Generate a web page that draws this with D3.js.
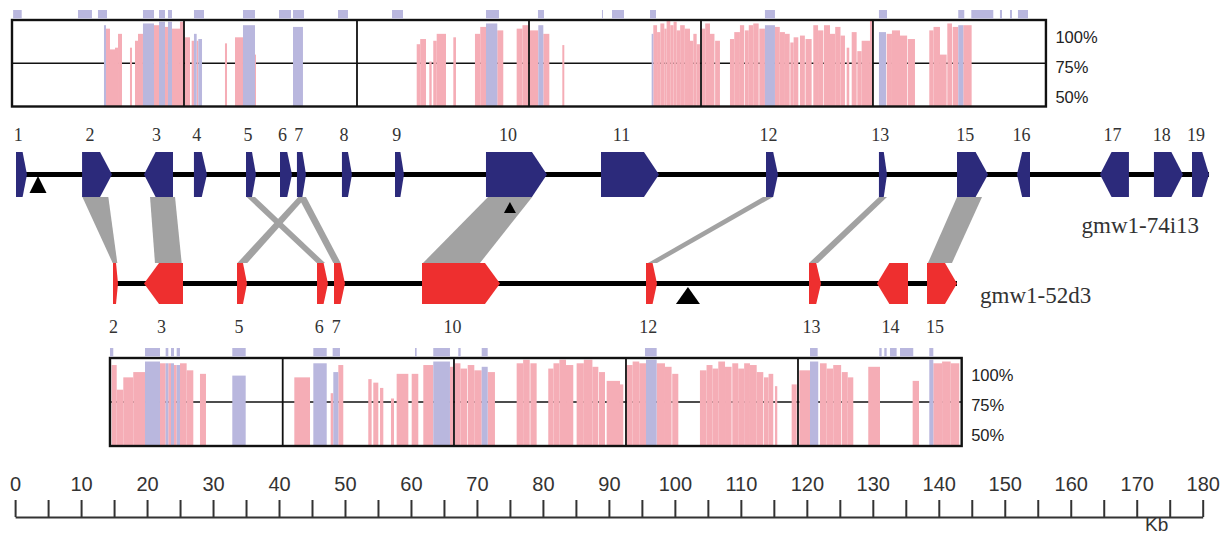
<!DOCTYPE html>
<html><head><meta charset="utf-8">
<script src="https://cdn.jsdelivr.net/npm/d3@7"></script>
<style>body{margin:0;background:#fff}svg{display:block}</style>
</head><body>
<svg id="c" width="1223" height="536"></svg>
<script>
// ================= DATA (positions in kb, identities in %) =================
const axisTicks = d3.range(0, 181, 5);
const axisLabelEvery = 10;
const axisUnit = "Kb";
const pctLabels = ["100%", "75%", "50%"];

const topName = "gmw1-74i13";
const botName = "gmw1-52d3";

// genes: id, start kb, end kb, strand
const topGeneIds    = ["1","2","3","4","5","6","7","8","9","10","11","12","13","15","16","17","18","19"];
const topGeneStart  = [0.14,10.15,19.54,27.11,35.00,40.15,42.72,49.54,57.58,71.37,88.80,113.81,130.93,142.76,151.85,164.43,172.61,178.38];
const topGeneEnd    = [1.80,14.69,23.93,29.08,36.51,41.97,44.09,51.06,58.94,80.61,97.59,115.63,132.15,147.46,153.82,168.82,177.01,180.96];
const topGeneStrand = [1,1,-1,1,1,1,1,1,1,1,1,1,1,1,-1,-1,1,1];

const botGeneIds    = ["2","3","5","6","7","10","12","13","14","15"];
const botGeneStart  = [14.84,19.54,33.63,45.76,48.33,61.67,95.62,120.33,130.63,138.21];
const botGeneEnd    = [15.60,25.45,35.15,47.42,50.00,73.49,97.29,122.15,135.33,142.76];
const botGeneStrand = [1,-1,1,1,1,1,1,1,-1,1];

// orthology links: [top start, top end, bottom start, bottom end] in kb
const links = [
  [10.20,14.13,14.79,15.49],
  [20.45,24.24,21.20,25.25],
  [35.10,36.36,45.71,46.97],
  [42.92,44.09,33.69,35.19],
  [42.92,44.09,48.23,49.35],
  [71.68,78.38,61.82,70.46],
  [113.36,114.87,95.92,97.29],
  [130.93,132.15,120.33,121.69],
  [142.76,146.55,138.36,142.00]
];

// insertion markers: kb, track
const markerKb    = [3.47, 75.0, 101.98];
const markerTrack = ["top", "top", "bottom"];

// VISTA panels
const topPanelRange = [-0.47, 156.24];
const topDividers   = [25.60, 51.82, 77.89, 103.96, 130.02];
const botPanelRange = [14.38, 143.47];
const botDividers   = [40.56, 66.52, 92.59, 118.66];

// [start kb, end kb, identity %]
const topExon = [[13.47,13.78,97],[19.38,21.05,98],[21.81,22.72,99],[23.17,23.78,99],[27.11,27.52,92],[27.77,28.33,89],
  [34.54,36.36,97],[42.12,43.63,96],[71.37,73.08,98],[79.30,80.06,97],[96.48,96.73,92],[113.65,115.17,97],
  [130.93,132.0,93],[142.95,143.71,97]];
const topCns = [[13.63,14.38,95],[14.38,15.14,83],[15.14,15.60,84],[15.60,16.20,92],[17.41,17.72,84],[18.17,18.63,88],
  [18.63,19.38,92],[21.05,21.81,97],[22.72,23.17,96],[23.78,24.99,95],[24.99,25.60,99],[25.75,26.51,90],[26.76,27.11,88],
  [27.52,27.77,88],[31.81,32.12,86.5],[33.33,34.54,90],[36.36,36.51,80],
  [60.87,61.4,86],[61.4,62.28,89],[62.78,63.14,76],[63.38,63.9,88],[63.9,65.31,92],[66.42,66.82,90],
  [69.70,70.5,92],[70.5,71.37,96],[73.08,73.99,94],[76.02,76.9,95],[76.9,77.79,97],[77.94,79.30,94],[80.06,80.97,92],[82.94,83.24,85.5],
  [96.73,97.3,97],[97.3,97.8,93],[97.8,98.4,98],[98.4,98.75,95],[98.75,99.3,100],[99.3,99.8,97],[99.8,100.27,99],
  [100.27,100.8,94],[100.8,101.5,97],[101.5,102.29,95],[102.29,102.8,88],[102.8,103.3,92],[103.3,103.80,86],
  [104.06,104.6,95],[104.6,105.32,98],[105.32,106.0,92],[106.1,106.83,88],
  [108.35,109.0,89],[109.0,109.86,93],[109.86,110.5,97],[110.6,111.2,94],[111.2,111.88,97],[111.88,112.7,98],[112.8,113.65,95],
  [115.17,115.9,96],[115.9,116.68,93],[116.68,117.4,92],[117.5,118.0,87],[118.0,118.71,90],
  [118.96,119.7,91],[119.8,120.73,89],[120.98,121.7,97],[121.7,122.5,94],[122.6,123.51,97],
  [123.51,124.3,92],[124.3,125.1,96],[125.1,125.78,91],[126.04,126.43,84],[126.80,127.55,93],[127.65,128.31,82],
  [128.31,129.57,88],[129.57,129.98,100],[132.1,132.9,92],[132.9,134.12,94],[134.12,135.2,91],[135.3,136.39,89],
  [138.56,139.2,94],[139.2,140.18,96],[140.18,141.19,80],[141.29,142.0,98],[142.1,142.95,96],[143.71,144.98,97]];
const topMarks = [[-0.3,1.0],[9.53,11.65],[12.56,13.93],[19.38,21.05],[21.81,22.72],[23.17,23.78],[27.11,28.63],
  [34.54,36.36],[40.0,41.82],[42.12,43.79],[48.94,50.45],[57.13,58.79],[71.37,73.34],[79.25,80.16],[88.95,89.10],
  [90.47,92.29],[96.23,97.14],[113.65,115.17],[130.93,132.15],[142.95,143.86],[144.93,148.26],[149.27,149.58],
  [150.79,151.09],[152.0,153.52]];

const botExon = [[19.69,21.96,98],[22.82,23.22,97],[23.63,24.08,97],[24.49,24.99,96],[32.92,34.95,90],[45.20,47.23,97],
  [48.23,48.99,92],[63.38,65.91,98],[70.72,71.63,95],[95.62,97.24,99],[120.48,121.73,98],[138.56,139.17,99]];
const botCns = [[14.64,15.40,96],[15.40,16.40,82],[16.40,17.91,89],[17.91,19.69,92],[21.96,22.82,97],[23.22,23.63,97],
  [24.08,24.49,96],[24.99,26.0,97],[26.0,27.01,93],[28.02,28.93,91],[42.32,44.70,89],[47.83,48.23,80],[48.99,49.74,96],
  [53.53,54.04,88],[54.29,55.05,86],[55.31,55.81,83],[56.97,57.43,77],[57.83,59.60,91],[60.11,61.11,91],[61.87,63.38,96],
  [65.91,66.41,95],[66.67,67.5,97],[67.5,68.5,94],[68.6,69.6,96],[69.6,70.72,93],[71.63,72.73,92],
  [76.02,77.0,97],[77.0,78.0,99],[78.1,79.05,97],[80.81,81.6,94],[81.6,82.5,97],[82.5,83.5,99],[83.5,84.6,96],
  [85.11,86.2,97],[86.2,87.5,99],[87.5,88.4,95],[88.5,89.41,92],[89.66,91.68,87],[91.68,92.18,85],
  [92.69,93.6,96],[93.6,94.6,98],[94.6,95.62,97],[97.24,98.5,97],[98.5,99.5,95],[99.6,100.52,91],
  [103.80,104.8,93],[104.8,105.7,96],[105.7,106.58,94],[106.58,107.6,98],[107.6,108.6,95],[108.7,109.6,97],
  [109.6,110.5,94],[110.5,111.38,97],[111.38,112.4,96],[112.4,113.4,92],[113.5,114.2,89],[114.2,114.91,91],
  [115.17,115.52,84],[117.70,118.46,85],[118.86,120.48,93],
  [121.99,123.0,97],[123.0,124.0,94],[124.0,125.2,96],[125.3,126.2,92],[126.2,127.04,89],
  [129.31,131.09,95],[136.04,137.0,87],[139.17,140.5,97],[140.5,141.8,98],[141.8,143.10,97]];
const botMarks = [[14.38,14.88],[19.69,21.96],[22.82,23.22],[23.63,24.08],[24.49,24.99],[32.92,34.95],[45.20,47.23],
  [48.13,49.24],[60.61,60.86],[63.38,65.91],[67.17,67.53],[70.72,71.63],[95.47,97.24],[120.48,121.64],[130.98,131.34],
  [131.74,132.10],[132.60,133.61],[134.12,136.13],[138.56,139.17]];

// ================= DRAWING =================
const svg = d3.select("#c");
svg.append("rect").attr("width",1223).attr("height",536).attr("fill","#fff");

const x = d3.scaleLinear().domain([0,180]).range([15.1,1202.7]);

const C = {cns:"#f5adb6", exon:"#b9b7de", blue:"#2c2a7b", red:"#ee2f2f", link:"#a2a2a2", text:"#333"};

function panel(cfg){
  const g = svg.append("g");
  const y = d3.scaleLinear().domain([50,100]).range([cfg.y0+cfg.h, cfg.y0]);
  const x0 = x(cfg.range[0]), x1 = x(cfg.range[1]);
  g.append("line").attr("x1",x0).attr("x2",x1).attr("y1",y(75)).attr("y2",y(75))
    .attr("stroke","#111").attr("stroke-width",1.6);
  const bar = (data, color) => g.append("g").selectAll("rect").data(data).join("rect")
    .attr("x", d=>x(d[0])).attr("width", d=>Math.max(0.8, x(d[1])-x(d[0])))
    .attr("y", d=>y(d[2])).attr("height", d=>y(50)-y(d[2])).attr("fill", color);
  bar(cfg.cns, C.cns);
  bar(cfg.exon, C.exon);
  g.append("g").selectAll("line").data(cfg.dividers).join("line")
    .attr("x1",d=>x(d)).attr("x2",d=>x(d)).attr("y1",y(100)).attr("y2",y(50))
    .attr("stroke","#111").attr("stroke-width",1.8);
  g.append("rect").attr("x",x0).attr("y",y(100)).attr("width",x1-x0).attr("height",y(50)-y(100))
    .attr("fill","none").attr("stroke","#111").attr("stroke-width",2.4);
  g.append("g").selectAll("rect").data(cfg.marks).join("rect")
    .attr("x", d=>x(d[0])).attr("width", d=>Math.max(1, x(d[1])-x(d[0])))
    .attr("y", cfg.y0-10).attr("height", 8.5).attr("fill", C.exon);
  g.append("g").selectAll("text").data(pctLabels).join("text")
    .attr("x", x1+9.5).attr("y", (d,i)=>cfg.y0+22.7+i*30)
    .attr("font-family","Liberation Sans, Arial, sans-serif").attr("font-size",16.5)
    .attr("fill","#222").text(d=>d);
}
panel({y0:20, h:86.5, range:topPanelRange, dividers:topDividers, cns:topCns, exon:topExon, marks:topMarks});
panel({y0:358, h:88, range:botPanelRange, dividers:botDividers, cns:botCns, exon:botExon, marks:botMarks});

const tracks = {
  top:    {y0:152, y1:197, ids:topGeneIds, s:topGeneStart, e:topGeneEnd, st:topGeneStrand, color:C.blue, labelY:141},
  bottom: {y0:263, y1:304, ids:botGeneIds, s:botGeneStart, e:botGeneEnd, st:botGeneStrand, color:C.red, labelY:333}
};

svg.append("g").selectAll("polygon").data(links).join("polygon")
  .attr("points", d => [[x(d[0]),tracks.top.y1],[x(d[1]),tracks.top.y1],[x(d[3]),tracks.bottom.y0],[x(d[2]),tracks.bottom.y0]].map(p=>p.join(",")).join(" "))
  .attr("fill", C.link);

function genePoints(s, e, strand, y0, y1){
  const w = e - s, h = Math.min(w*0.4, 15), ym = (y0+y1)/2;
  if (strand > 0) return [[s,y0],[e-h,y0],[e,ym],[e-h,y1],[s,y1]];
  return [[e,y0],[s+h,y0],[s,ym],[s+h,y1],[e,y1]];
}

Object.values(tracks).forEach(t => {
  const g = svg.append("g");
  const genes = t.ids.map((id,i)=>({id, s:x(t.s[i]), e:x(t.e[i]), st:t.st[i]}));
  const ym = (t.y0+t.y1)/2;
  g.append("line").attr("x1", genes[0].s).attr("x2", genes[genes.length-1].e)
    .attr("y1", ym).attr("y2", ym).attr("stroke","#000").attr("stroke-width",5);
  g.selectAll("polygon").data(genes).join("polygon")
    .attr("points", d => genePoints(d.s, d.e, d.st, t.y0, t.y1).map(p=>p.join(",")).join(" "))
    .attr("fill", t.color);
  g.selectAll("text").data(genes).join("text")
    .attr("x", d => { const w=d.e-d.s, h=Math.min(w*0.4,15); return d.st>0 ? (d.s + d.e - h)/2 - 1 : (d.s+d.e)/2 - 2; })
    .attr("y", t.labelY).attr("text-anchor","middle")
    .attr("font-family","Liberation Serif, Times New Roman, serif").attr("font-size",18)
    .attr("fill", C.text).text(d=>d.id);
});

const markerSize = [[17,17],[12,11],[24,17]];
const markerApex = {top:[176,202], bottom:[287]};
let mi = {top:0, bottom:0};
svg.append("g").selectAll("path").data(markerKb.map((k,i)=>({k, t:markerTrack[i], i}))).join("path")
  .attr("d", d => {
    const [w,h] = markerSize[d.i];
    const apex = markerApex[d.t][mi[d.t]++];
    const cx = x(d.k);
    return `M${cx},${apex}L${cx+w/2},${apex+h}L${cx-w/2},${apex+h}Z`;
  }).attr("fill","#000");

svg.append("text").attr("x",1081.5).attr("y",233).attr("font-family","Liberation Serif, Times New Roman, serif")
  .attr("font-size",23).attr("fill",C.text).text(topName);
svg.append("text").attr("x",980).attr("y",303).attr("font-family","Liberation Serif, Times New Roman, serif")
  .attr("font-size",23).attr("fill",C.text).text(botName);

const axis = d3.axisTop(x).tickValues(axisTicks).tickSizeInner(17).tickSizeOuter(0).tickPadding(9)
  .tickFormat(d => d % axisLabelEvery === 0 ? d : "");
const ag = svg.append("g").attr("transform","translate(0,517)").call(axis);
ag.select(".domain").attr("stroke","#333").attr("stroke-width",2.2);
ag.selectAll(".tick line").attr("stroke","#333").attr("stroke-width",2);
ag.selectAll(".tick text").attr("font-family","Liberation Sans, Arial, sans-serif").attr("font-size",20).attr("fill","#333");
svg.append("text").attr("x",1145).attr("y",531).attr("font-family","Liberation Sans, Arial, sans-serif")
  .attr("font-size",19).attr("fill","#333").text(axisUnit);
</script>
</body></html>
